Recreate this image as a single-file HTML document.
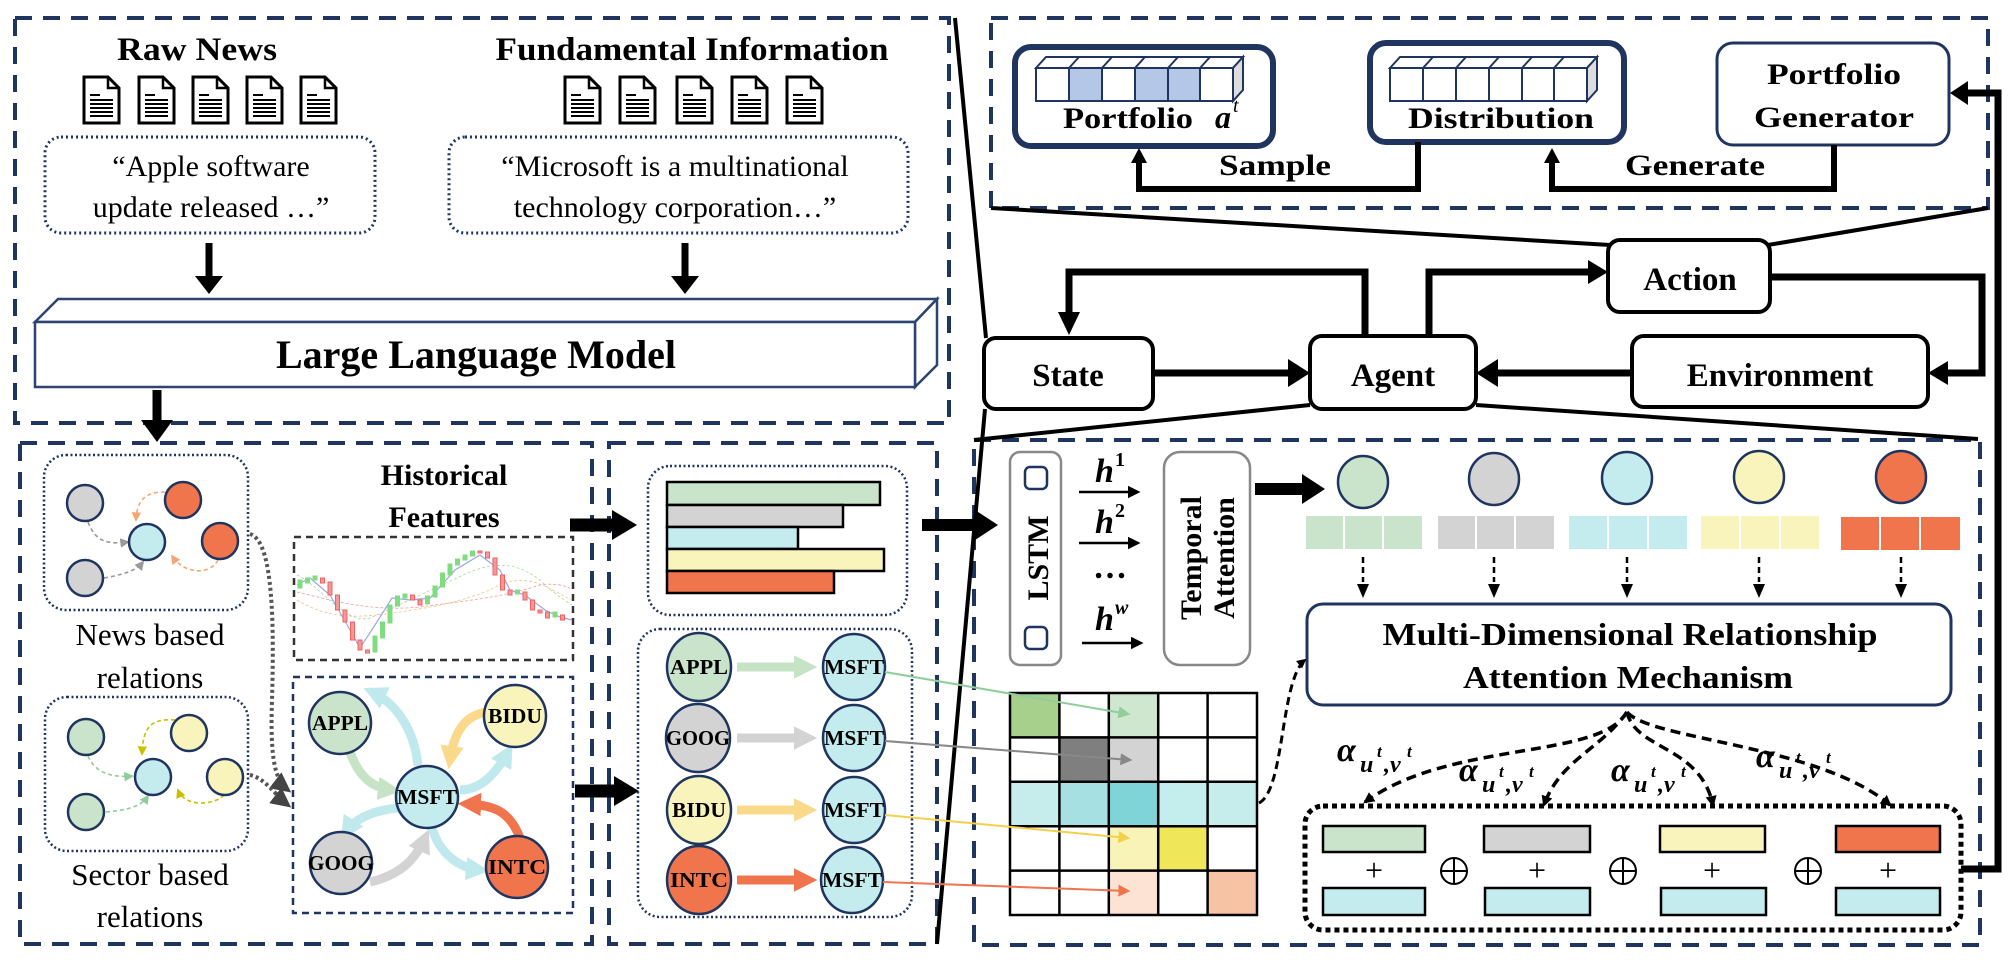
<!DOCTYPE html>
<html><head><meta charset="utf-8"><style>
html,body{margin:0;padding:0;background:#fff}
svg{display:block}
text{font-family:"Liberation Serif",serif}
.b{font-weight:bold}
</style></head><body>
<svg width="2015" height="967" viewBox="0 0 2015 967" xmlns="http://www.w3.org/2000/svg">
<defs>
<marker id="ak" viewBox="0 0 10 10" refX="8" refY="5" markerWidth="3.2" markerHeight="3.2" orient="auto"><path d="M0,0L10,5L0,10z" fill="#000"/></marker>
<marker id="ak2" viewBox="0 0 10 10" refX="8" refY="5" markerWidth="5" markerHeight="5" orient="auto"><path d="M0,0L10,5L0,10z" fill="#000"/></marker>
<marker id="mg" viewBox="0 0 10 10" refX="6" refY="5" markerWidth="2.6" markerHeight="2.6" orient="auto"><path d="M0,0L10,5L0,10z" fill="#c6e3c6"/></marker>
<marker id="mc" viewBox="0 0 10 10" refX="6" refY="5" markerWidth="2.6" markerHeight="2.6" orient="auto"><path d="M0,0L10,5L0,10z" fill="#bfe9ec"/></marker>
<marker id="my" viewBox="0 0 10 10" refX="6" refY="5" markerWidth="2.6" markerHeight="2.6" orient="auto"><path d="M0,0L10,5L0,10z" fill="#fbd98a"/></marker>
<marker id="mo" viewBox="0 0 10 10" refX="6" refY="5" markerWidth="2.6" markerHeight="2.6" orient="auto"><path d="M0,0L10,5L0,10z" fill="#f0744c"/></marker>
<marker id="mgr" viewBox="0 0 10 10" refX="6" refY="5" markerWidth="2.6" markerHeight="2.6" orient="auto"><path d="M0,0L10,5L0,10z" fill="#d3d3d3"/></marker>
<marker id="sg" viewBox="0 0 10 10" refX="8" refY="5" markerWidth="6" markerHeight="6" orient="auto"><path d="M0,0L10,5L0,10z" fill="#8fce9c"/></marker>
<marker id="sgr" viewBox="0 0 10 10" refX="8" refY="5" markerWidth="6" markerHeight="6" orient="auto"><path d="M0,0L10,5L0,10z" fill="#999"/></marker>
<marker id="sy" viewBox="0 0 10 10" refX="8" refY="5" markerWidth="6" markerHeight="6" orient="auto"><path d="M0,0L10,5L0,10z" fill="#f5d04a"/></marker>
<marker id="so" viewBox="0 0 10 10" refX="8" refY="5" markerWidth="6" markerHeight="6" orient="auto"><path d="M0,0L10,5L0,10z" fill="#f0744c"/></marker>
<marker id="sgy" viewBox="0 0 10 10" refX="8" refY="5" markerWidth="6" markerHeight="6" orient="auto"><path d="M0,0L10,5L0,10z" fill="#888"/></marker>
<marker id="sor" viewBox="0 0 10 10" refX="8" refY="5" markerWidth="6" markerHeight="6" orient="auto"><path d="M0,0L10,5L0,10z" fill="#f3a874"/></marker>
<marker id="sye" viewBox="0 0 10 10" refX="8" refY="5" markerWidth="6" markerHeight="6" orient="auto"><path d="M0,0L10,5L0,10z" fill="#c8c000"/></marker>
<marker id="sgn" viewBox="0 0 10 10" refX="8" refY="5" markerWidth="6" markerHeight="6" orient="auto"><path d="M0,0L10,5L0,10z" fill="#8fce9c"/></marker>
<marker id="dk" viewBox="0 0 10 10" refX="8" refY="5" markerWidth="5" markerHeight="5" orient="auto"><path d="M0,0L10,5L0,10z" fill="#444"/></marker>
<g id="doc"><path d="M0,0h24l11,11v35h-35z" fill="#fff" stroke="#000" stroke-width="3"/><path d="M24,0v11h11" fill="none" stroke="#000" stroke-width="2.5"/><path d="M6,18h10M6,23h23M6,27h23M6,31h23M6,35h23M6,39h23" stroke="#000" stroke-width="2"/></g>
</defs>

<!-- ===== Panel outlines ===== -->
<g fill="none" stroke="#1f3560" stroke-width="4" stroke-dasharray="17 11">
<rect x="15" y="18" width="934" height="405"/>
<rect x="20" y="443" width="572" height="501"/>
<rect x="609" y="443" width="328" height="501"/>
<rect x="991" y="18" width="997" height="190"/>
<rect x="974" y="440" width="1006" height="505"/>
</g>

<!-- ===== Top-left: Raw news / Fundamental ===== -->
<text x="197" y="60" class="b" font-size="33" text-anchor="middle" textLength="160" lengthAdjust="spacingAndGlyphs">Raw News</text>
<text x="692" y="60" class="b" font-size="33" text-anchor="middle" textLength="393" lengthAdjust="spacingAndGlyphs">Fundamental Information</text>
<use href="#doc" x="84" y="77"/><use href="#doc" x="139" y="77"/><use href="#doc" x="193" y="77"/><use href="#doc" x="247" y="77"/><use href="#doc" x="301" y="77"/>
<use href="#doc" x="565" y="77"/><use href="#doc" x="620" y="77"/><use href="#doc" x="677" y="77"/><use href="#doc" x="732" y="77"/><use href="#doc" x="787" y="77"/>
<rect x="45" y="137" width="330" height="96" rx="16" fill="none" stroke="#1f3560" stroke-width="3" stroke-dasharray="2 3"/>
<rect x="449" y="137" width="459" height="96" rx="16" fill="none" stroke="#1f3560" stroke-width="3" stroke-dasharray="2 3"/>
<text x="211" y="176" font-size="30" text-anchor="middle">“Apple software</text>
<text x="211" y="217" font-size="30" text-anchor="middle">update released …”</text>
<text x="675" y="176" font-size="30" text-anchor="middle">“Microsoft is a multinational</text>
<text x="675" y="217" font-size="30" text-anchor="middle">technology corporation…”</text>
<path d="M209,243V282" stroke="#000" stroke-width="7"/><path d="M195,276h28l-14,18z" fill="#000"/>
<path d="M685,243V282" stroke="#000" stroke-width="7"/><path d="M671,276h28l-14,18z" fill="#000"/>
<!-- LLM 3D box -->
<g fill="#fff" stroke="#2c4470" stroke-width="2.5">
<path d="M35,322L58,299H937L915,322z"/>
<path d="M915,322L937,299V365L915,387z"/>
<rect x="35" y="322" width="880" height="65"/>
</g>
<text x="476" y="368" class="b" font-size="40" text-anchor="middle">Large Language Model</text>
<path d="M157,390V425" stroke="#000" stroke-width="9"/><path d="M141,420h32l-16,22z" fill="#000"/>

<!-- ===== Lower-left panel ===== -->
<rect x="44" y="455" width="204" height="155" rx="22" fill="none" stroke="#1f3560" stroke-width="2.5" stroke-dasharray="2 2.5"/>
<rect x="45" y="697" width="203" height="154" rx="22" fill="none" stroke="#1f3560" stroke-width="2.5" stroke-dasharray="2 2.5"/>
<g stroke-width="1.6" fill="none" stroke-dasharray="4 3">
<path d="M88,522C95,540 105,545 128,542" stroke="#999" marker-end="url(#sgr)"/>
<path d="M104,578C120,575 135,572 143,562" stroke="#999" marker-end="url(#sgr)"/>
<path d="M165,492C145,492 137,500 136,520" stroke="#f3a874" marker-end="url(#sor)"/>
<path d="M218,560C210,575 185,575 172,556" stroke="#f3a874" marker-end="url(#sor)"/>
<path d="M88,756C95,772 110,778 132,776" stroke="#8fce9c" marker-end="url(#sgn)"/>
<path d="M106,812C125,810 140,808 148,796" stroke="#8fce9c" marker-end="url(#sgn)"/>
<path d="M175,720C150,718 143,728 142,754" stroke="#c8c000" marker-end="url(#sye)"/>
<path d="M224,795C215,805 185,808 178,790" stroke="#c8c000" marker-end="url(#sye)"/>
</g>
<g stroke="#1f3560" stroke-width="2.5">
<circle cx="85" cy="503" r="18" fill="#d3d3d3"/><circle cx="85" cy="578" r="18" fill="#d3d3d3"/>
<circle cx="147" cy="542" r="18" fill="#c4ecee"/><circle cx="183" cy="500" r="18" fill="#f0744c"/><circle cx="220" cy="541" r="18" fill="#f0744c"/>
<circle cx="86" cy="737" r="18" fill="#c9e4ca"/><circle cx="86" cy="812" r="18" fill="#c9e4ca"/>
<circle cx="153" cy="777" r="18" fill="#c4ecee"/><circle cx="189" cy="733" r="18" fill="#f8f4bc"/><circle cx="225" cy="777" r="18" fill="#f8f4bc"/>
</g>
<text x="150" y="645" font-size="31" text-anchor="middle">News based</text>
<text x="150" y="688" font-size="31" text-anchor="middle">relations</text>
<text x="150" y="885" font-size="31" text-anchor="middle">Sector based</text>
<text x="150" y="927" font-size="31" text-anchor="middle">relations</text>
<path d="M250,534C270,540 275,600 272,700C270,760 275,780 288,790" fill="none" stroke="#555" stroke-width="4" stroke-dasharray="3 3" marker-end="url(#dk)"/>
<path d="M250,775C265,778 275,795 288,805" fill="none" stroke="#555" stroke-width="4" stroke-dasharray="3 3" marker-end="url(#dk)"/>
<text x="444" y="485" class="b" font-size="30" text-anchor="middle">Historical</text>
<text x="444" y="527" class="b" font-size="30" text-anchor="middle">Features</text>
<!-- chart -->
<rect x="294" y="537" width="279" height="123" fill="#fff" stroke="#333" stroke-width="2.5" stroke-dasharray="7 5"/>
<g stroke-width="0.8" stroke-dasharray="3 2" fill="none">
<path d="M297,600C330,620 360,618 400,612C440,606 470,600 500,585C530,572 550,590 572,600" stroke="#f3c38a"/>
<path d="M297,592C330,600 370,612 420,607C470,600 500,598 540,585C560,582 570,588 572,590" stroke="#f19a9a"/>
<path d="M297,575C320,585 345,625 370,618C400,605 430,590 470,572C500,560 520,565 540,580C555,595 565,600 572,605" stroke="#a8d8a0"/>
</g>
<path d="M297,585L310,578L330,595L350,630L360,648L375,625L392,598L410,600L430,598L455,570L480,555L500,570L510,590L525,595L545,610L560,617L572,620" fill="none" stroke="#9aa8e0" stroke-width="1.2"/>
<g stroke-width="1">
<g fill="#7fdc7f" stroke="#7fdc7f">
<rect x="298" y="580" width="4" height="8"/><rect x="305.5" y="578" width="4" height="5"/><rect x="313" y="576" width="4" height="4"/>
<rect x="373" y="636" width="4" height="16"/><rect x="380.5" y="622" width="4" height="16"/><rect x="388" y="605" width="4" height="18"/><rect x="395.5" y="596" width="4" height="10"/><rect x="403" y="594" width="4" height="4"/>
<rect x="425.5" y="596" width="4" height="8"/><rect x="433" y="586" width="4" height="11"/><rect x="440.5" y="573" width="4" height="14"/><rect x="448" y="564" width="4" height="11"/><rect x="455.5" y="559" width="4" height="6"/><rect x="463" y="555" width="4" height="5"/><rect x="470.5" y="551" width="4" height="5"/>
<rect x="515.5" y="590" width="4" height="4"/><rect x="553" y="612" width="4" height="5"/>
</g>
<g fill="#f29a9a" stroke="#f26060">
<rect x="320.5" y="578" width="4" height="5"/><rect x="328" y="582" width="4" height="13"/><rect x="335.5" y="595" width="4" height="15"/><rect x="343" y="610" width="4" height="12"/><rect x="350.5" y="622" width="4" height="18"/><rect x="358" y="640" width="4" height="10"/><rect x="365.5" y="650" width="4" height="3"/>
<rect x="410.5" y="595" width="4" height="5"/><rect x="418" y="600" width="4" height="5"/>
<rect x="478" y="551" width="4" height="2"/><rect x="485.5" y="552" width="4" height="6"/><rect x="493" y="558" width="4" height="17"/><rect x="500.5" y="575" width="4" height="15"/><rect x="508" y="590" width="4" height="5"/>
<rect x="523" y="592" width="4" height="8"/><rect x="530.5" y="600" width="4" height="10"/><rect x="538" y="610" width="4" height="3"/><rect x="545.5" y="612" width="4" height="6"/><rect x="560.5" y="615" width="4" height="5"/>
</g>
</g>
<!-- relation graph -->
<rect x="293" y="677" width="280" height="236" fill="none" stroke="#1f3560" stroke-width="2.5" stroke-dasharray="7 5"/>
<g fill="none" stroke-width="9">
<path d="M350,752C360,780 375,788 392,790" stroke="#c6e3c6" marker-end="url(#mg)"/>
<path d="M418,766C415,735 400,705 372,692" stroke="#bfe9ec" marker-end="url(#mc)"/>
<path d="M488,712C470,714 455,725 450,760" stroke="#fbd98a" marker-end="url(#my)"/>
<path d="M460,790C480,790 495,775 508,752" stroke="#bfe9ec" marker-end="url(#mc)"/>
<path d="M520,838C510,812 495,805 467,804" stroke="#f0744c" marker-end="url(#mo)"/>
<path d="M398,808C375,810 355,818 346,832" stroke="#bfe9ec" marker-end="url(#mc)"/>
<path d="M370,882C400,875 415,860 425,838" stroke="#d3d3d3" marker-end="url(#mgr)"/>
<path d="M432,828C440,855 460,868 480,870" stroke="#bfe9ec" marker-end="url(#mc)"/>
</g>
<g stroke="#1f3560" stroke-width="2.5">
<circle cx="340" cy="723" r="31" fill="#c9e4ca"/><circle cx="515" cy="716" r="31" fill="#f8f4bc"/>
<circle cx="427" cy="797" r="31" fill="#c4ecee"/><circle cx="341" cy="863" r="31" fill="#d3d3d3"/><circle cx="517" cy="867" r="31" fill="#f0744c"/>
</g>
<g class="b" font-size="21" text-anchor="middle" font-weight="bold">
<text x="340" y="730" textLength="56" lengthAdjust="spacingAndGlyphs">APPL</text>
<text x="515" y="723" textLength="54" lengthAdjust="spacingAndGlyphs">BIDU</text>
<text x="427" y="804" textLength="60" lengthAdjust="spacingAndGlyphs">MSFT</text>
<text x="341" y="870" textLength="66" lengthAdjust="spacingAndGlyphs">GOOG</text>
<text x="517" y="874" textLength="58" lengthAdjust="spacingAndGlyphs">INTC</text>
</g>
<!-- big arrows -->
<path d="M570,525H615" stroke="#000" stroke-width="13"/><path d="M612,510L637,525L612,540z" fill="#000"/>
<path d="M575,791H617" stroke="#000" stroke-width="13"/><path d="M614,776L639,791L614,806z" fill="#000"/>

<!-- ===== Middle panel ===== -->
<rect x="648" y="466" width="259" height="149" rx="22" fill="none" stroke="#1f3560" stroke-width="2.5" stroke-dasharray="2 2.5"/>
<g stroke="#000" stroke-width="2.5">
<rect x="667" y="482" width="213" height="23" fill="#c9e4ca"/>
<rect x="667" y="505" width="176" height="22" fill="#d3d3d3"/>
<rect x="667" y="527" width="131" height="22" fill="#c4ecee"/>
<rect x="667" y="549" width="217" height="22" fill="#f8f4bc"/>
<rect x="667" y="571" width="167" height="22" fill="#f0744c"/>
</g>
<rect x="638" y="629" width="274" height="288" rx="22" fill="none" stroke="#1f3560" stroke-width="2.5" stroke-dasharray="2 2.5"/>
<g fill="none" stroke-width="9">
<path d="M737,667H808" stroke="#c6e3c6" marker-end="url(#mg)"/>
<path d="M737,738H808" stroke="#d3d3d3" marker-end="url(#mgr)"/>
<path d="M737,810H808" stroke="#fbd98a" marker-end="url(#my)"/>
<path d="M737,880H808" stroke="#f0744c" marker-end="url(#mo)"/>
</g>
<g stroke="#1f3560" stroke-width="2.5">
<ellipse cx="699" cy="667" rx="32" ry="34" fill="#c9e4ca"/><ellipse cx="698" cy="738" rx="32" ry="34" fill="#d3d3d3"/>
<ellipse cx="699" cy="810" rx="32" ry="34" fill="#f8f4bc"/><ellipse cx="699" cy="880" rx="32" ry="34" fill="#f0744c"/>
<ellipse cx="854" cy="667" rx="31" ry="33" fill="#c4ecee"/><ellipse cx="854" cy="738" rx="31" ry="33" fill="#c4ecee"/>
<ellipse cx="854" cy="810" rx="31" ry="33" fill="#c4ecee"/><ellipse cx="852" cy="880" rx="31" ry="33" fill="#c4ecee"/>
</g>
<g font-size="21" text-anchor="middle" font-weight="bold">
<text x="699" y="674" textLength="58" lengthAdjust="spacingAndGlyphs">APPL</text>
<text x="698" y="745" textLength="64" lengthAdjust="spacingAndGlyphs">GOOG</text>
<text x="699" y="817" textLength="54" lengthAdjust="spacingAndGlyphs">BIDU</text>
<text x="699" y="887" textLength="58" lengthAdjust="spacingAndGlyphs">INTC</text>
<text x="854" y="674" textLength="60" lengthAdjust="spacingAndGlyphs">MSFT</text>
<text x="854" y="745" textLength="60" lengthAdjust="spacingAndGlyphs">MSFT</text>
<text x="854" y="817" textLength="60" lengthAdjust="spacingAndGlyphs">MSFT</text>
<text x="852" y="887" textLength="60" lengthAdjust="spacingAndGlyphs">MSFT</text>
</g>
<path d="M922,525H978" stroke="#000" stroke-width="12"/><path d="M975,510L998,525L975,540z" fill="#000"/>

<!-- ===== Funnel lines ===== -->
<g stroke="#000" stroke-width="4" fill="none">
<path d="M955,18L986,338"/>
<path d="M985,409L937,944"/>
<path d="M1310,405L974,440"/>
<path d="M1476,405L1978,439"/>
<path d="M991,208L1610,245"/>
<path d="M1988,208L1768,245"/>
</g>

<!-- ===== Top-right ===== -->
<rect x="1015" y="47" width="258" height="99" rx="16" fill="#fff" stroke="#1f3560" stroke-width="6"/>
<rect x="1370" y="43" width="254" height="99" rx="16" fill="#fff" stroke="#1f3560" stroke-width="6"/>
<rect x="1717" y="43" width="232" height="102" rx="16" fill="#fff" stroke="#1f3560" stroke-width="3"/>
<g stroke="#1f3560" stroke-width="2">
<path d="M1036,68L1046,57H1243L1233,68z" fill="#fff"/><path d="M1233,68L1243,57V90L1233,101z" fill="#ddd"/>
<rect x="1036" y="68" width="33" height="33" fill="#fff"/><rect x="1069" y="68" width="33" height="33" fill="#b4c7e7"/><rect x="1102" y="68" width="33" height="33" fill="#fff"/><rect x="1135" y="68" width="33" height="33" fill="#b4c7e7"/><rect x="1168" y="68" width="32" height="33" fill="#b4c7e7"/><rect x="1200" y="68" width="33" height="33" fill="#fff"/>
<path d="M1069,68l10,-11M1102,68l10,-11M1135,68l10,-11M1168,68l10,-11M1200,68l10,-11" fill="none"/>
<path d="M1390,68L1400,57H1597L1587,68z" fill="#fff"/><path d="M1587,68L1597,57V90L1587,101z" fill="#ddd"/>
<rect x="1390" y="68" width="33" height="33" fill="#fff"/><rect x="1423" y="68" width="33" height="33" fill="#fff"/><rect x="1456" y="68" width="33" height="33" fill="#fff"/><rect x="1489" y="68" width="33" height="33" fill="#fff"/><rect x="1522" y="68" width="32" height="33" fill="#fff"/><rect x="1554" y="68" width="33" height="33" fill="#fff"/>
<path d="M1423,68l10,-11M1456,68l10,-11M1489,68l10,-11M1522,68l10,-11M1554,68l10,-11" fill="none"/>
</g>
<text x="1128" y="128" class="b" font-size="30" text-anchor="middle" textLength="130" lengthAdjust="spacingAndGlyphs">Portfolio</text>
<text x="1215" y="128" font-size="32" font-style="italic" font-weight="bold">a</text><text x="1233" y="112" font-size="20" font-style="italic">t</text>
<text x="1501" y="128" class="b" font-size="30" text-anchor="middle" textLength="186" lengthAdjust="spacingAndGlyphs">Distribution</text>
<text x="1834" y="84" class="b" font-size="30" text-anchor="middle" textLength="134" lengthAdjust="spacingAndGlyphs">Portfolio</text>
<text x="1834" y="127" class="b" font-size="30" text-anchor="middle" textLength="160" lengthAdjust="spacingAndGlyphs">Generator</text>
<text x="1275" y="175" class="b" font-size="30" text-anchor="middle" textLength="112" lengthAdjust="spacingAndGlyphs">Sample</text>
<text x="1695" y="175" class="b" font-size="30" text-anchor="middle" textLength="140" lengthAdjust="spacingAndGlyphs">Generate</text>
<g stroke="#000" stroke-width="6" fill="none">
<path d="M1418,142V189H1139V160"/>
<path d="M1834,145V189H1552V160"/>
</g>
<path d="M1131,163L1139,148L1147,163z" fill="#000"/>
<path d="M1544,163L1552,148L1560,163z" fill="#000"/>

<!-- ===== RL loop ===== -->
<g stroke="#000" stroke-width="7" fill="none">
<path d="M1365,336V272H1069V318"/>
<path d="M1429,336V272H1590"/>
<path d="M1770,277H1982V373H1945"/>
<path d="M1961,869H1998V93H1966"/>
<path d="M1153,373H1290"/>
<path d="M1632,373H1495"/>
</g>
<path d="M1058,312H1080L1069,335z" fill="#000"/>
<path d="M1588,260L1608,272L1588,284z" fill="#000"/>
<path d="M1948,361L1928,373L1948,385z" fill="#000"/>
<path d="M1968,81L1950,93L1968,105z" fill="#000"/>
<path d="M1288,359L1310,373L1288,387z" fill="#000"/>
<path d="M1498,359L1476,373L1498,387z" fill="#000"/>
<g fill="#fff" stroke="#000" stroke-width="4">
<rect x="1608" y="240" width="162" height="72" rx="12"/>
<rect x="984" y="338" width="169" height="71" rx="12"/>
<rect x="1310" y="336" width="166" height="73" rx="12"/>
<rect x="1632" y="336" width="296" height="71" rx="12"/>
</g>
<text x="1690" y="290" class="b" font-size="33" text-anchor="middle">Action</text>
<text x="1068" y="386" class="b" font-size="33" text-anchor="middle">State</text>
<text x="1393" y="386" class="b" font-size="33" text-anchor="middle">Agent</text>
<text x="1780" y="386" class="b" font-size="33" text-anchor="middle">Environment</text>

<!-- ===== Bottom-right panel ===== -->
<rect x="1010" y="452" width="51" height="213" rx="10" fill="#fff" stroke="#888" stroke-width="2.5"/>
<rect x="1025" y="467" width="22" height="22" rx="5" fill="#fff" stroke="#1f3560" stroke-width="2.5"/>
<rect x="1025" y="627" width="22" height="22" rx="5" fill="#fff" stroke="#1f3560" stroke-width="2.5"/>
<text transform="translate(1048,558) rotate(-90)" class="b" font-size="30" text-anchor="middle">LSTM</text>
<rect x="1164" y="452" width="86" height="213" rx="16" fill="#fff" stroke="#888" stroke-width="2.5"/>
<text transform="translate(1201,558) rotate(-90)" class="b" font-size="30" text-anchor="middle">Temporal</text>
<text transform="translate(1234,558) rotate(-90)" class="b" font-size="30" text-anchor="middle">Attention</text>
<g font-size="34" font-style="italic" font-weight="bold">
<text x="1095" y="482">h</text><text x="1115" y="466" font-size="20" font-style="normal">1</text>
<text x="1095" y="533">h</text><text x="1115" y="517" font-size="20" font-style="normal">2</text>
<text x="1093" y="578" font-style="normal">…</text>
<text x="1095" y="630">h</text><text x="1115" y="614" font-size="20">w</text>
</g>
<g stroke="#000" stroke-width="2.5" marker-end="url(#ak2)">
<path d="M1079,492H1138"/><path d="M1079,543H1138"/><path d="M1082,643H1141"/>
</g>
<path d="M1255,489H1305" stroke="#000" stroke-width="12"/><path d="M1302,474L1325,489L1302,504z" fill="#000"/>
<g stroke="#1f3560" stroke-width="2.5">
<ellipse cx="1363" cy="482" rx="25" ry="26" fill="#c9e4ca"/><ellipse cx="1494" cy="479" rx="25" ry="26" fill="#d3d3d3"/>
<ellipse cx="1627" cy="478" rx="25" ry="26" fill="#c4ecee"/><ellipse cx="1759" cy="477" rx="25" ry="26" fill="#f8f4bc"/>
<ellipse cx="1901" cy="477" rx="25" ry="26" fill="#f0744c"/>
</g>
<g stroke="#fff" stroke-width="2">
<rect x="1305" y="515" width="39" height="35" fill="#c9e4ca"/><rect x="1344" y="515" width="39" height="35" fill="#c9e4ca"/><rect x="1383" y="515" width="40" height="35" fill="#c9e4ca"/>
<rect x="1437" y="515" width="39" height="35" fill="#d3d3d3"/><rect x="1476" y="515" width="39" height="35" fill="#d3d3d3"/><rect x="1515" y="515" width="40" height="35" fill="#d3d3d3"/>
<rect x="1568" y="515" width="40" height="35" fill="#c4ecee"/><rect x="1608" y="515" width="40" height="35" fill="#c4ecee"/><rect x="1648" y="515" width="40" height="35" fill="#c4ecee"/>
<rect x="1700" y="515" width="40" height="35" fill="#f8f4bc"/><rect x="1740" y="515" width="40" height="35" fill="#f8f4bc"/><rect x="1780" y="515" width="40" height="35" fill="#f8f4bc"/>
<rect x="1840" y="516" width="40" height="35" fill="#f0744c"/><rect x="1880" y="516" width="40" height="35" fill="#f0744c"/><rect x="1920" y="516" width="41" height="35" fill="#f0744c"/>
</g>
<g stroke="#000" stroke-width="2.5" stroke-dasharray="6 4">
<path d="M1363,557V582"/><path d="M1494,557V582"/><path d="M1627,557V582"/><path d="M1759,557V582"/><path d="M1901,557V582"/>
</g>
<g fill="#000">
<path d="M1357,584h12l-6,14z"/><path d="M1488,584h12l-6,14z"/><path d="M1621,584h12l-6,14z"/><path d="M1753,584h12l-6,14z"/><path d="M1895,584h12l-6,14z"/>
</g>
<rect x="1307" y="604" width="644" height="101" rx="16" fill="#fff" stroke="#1f3560" stroke-width="3"/>
<text x="1630" y="645" class="b" font-size="32" text-anchor="middle" textLength="495" lengthAdjust="spacingAndGlyphs">Multi-Dimensional  Relationship</text>
<text x="1628" y="688" class="b" font-size="32" text-anchor="middle" textLength="330" lengthAdjust="spacingAndGlyphs">Attention Mechanism</text>
<!-- matrix -->
<g stroke="none">
<rect x="1010" y="693" width="49.4" height="44.4" fill="#a8d08d"/><rect x="1108.8" y="693" width="49.4" height="44.4" fill="#cfe6cf"/>
<rect x="1059.4" y="737.4" width="49.4" height="44.4" fill="#7f7f7f"/><rect x="1108.8" y="737.4" width="49.4" height="44.4" fill="#d3d3d3"/>
<rect x="1010" y="781.8" width="49.4" height="44.4" fill="#c7ecec"/><rect x="1059.4" y="781.8" width="49.4" height="44.4" fill="#a6e0e2"/><rect x="1108.8" y="781.8" width="49.4" height="44.4" fill="#7fd4d8"/><rect x="1158.2" y="781.8" width="49.4" height="44.4" fill="#c4eeee"/><rect x="1207.6" y="781.8" width="49.4" height="44.4" fill="#c7ecec"/>
<rect x="1108.8" y="826.2" width="49.4" height="44.4" fill="#f8f4b8"/><rect x="1158.2" y="826.2" width="49.4" height="44.4" fill="#efe65a"/>
<rect x="1108.8" y="870.6" width="49.4" height="44.4" fill="#fde3d3"/><rect x="1207.6" y="870.6" width="49.4" height="44.4" fill="#f6c4a4"/>
</g>
<g stroke="#000" stroke-width="2.5" fill="none">
<rect x="1010" y="693" width="247" height="222"/>
<path d="M1059.4,693V915M1108.8,693V915M1158.2,693V915M1207.6,693V915M1010,737.4H1257M1010,781.8H1257M1010,826.2H1257M1010,870.6H1257"/>
</g>
<g stroke-width="2" fill="none">
<path d="M885,672L1128,714" stroke="#8fce9c" marker-end="url(#sg)"/>
<path d="M885,741L1130,760" stroke="#888" marker-end="url(#sgy)"/>
<path d="M885,815L1128,838" stroke="#f5d04a" marker-end="url(#sy)"/>
<path d="M883,882L1128,891" stroke="#f0744c" marker-end="url(#so)"/>
</g>
<path d="M1259,803C1285,790 1280,680 1305,660" fill="none" stroke="#000" stroke-width="3" stroke-dasharray="8 5" marker-end="url(#ak)"/>
<!-- alpha curves -->
<g stroke="#000" stroke-width="3.5" stroke-dasharray="10 6" fill="none">
<path d="M1627,712C1600,760 1450,740 1365,802" marker-end="url(#ak)"/>
<path d="M1627,712C1600,750 1560,760 1544,805" marker-end="url(#ak)"/>
<path d="M1627,712C1635,750 1700,745 1713,805" marker-end="url(#ak)"/>
<path d="M1627,712C1650,740 1820,745 1890,805" marker-end="url(#ak)"/>
</g>
<g font-size="34" font-style="italic" font-weight="bold">
<text x="1337" y="761">α</text><text x="1360" y="772" font-size="24">u</text><text x="1377" y="757" font-size="17">t</text><text x="1384" y="772" font-size="24">,v</text><text x="1407" y="757" font-size="17">t</text>
<text x="1459" y="781">α</text><text x="1482" y="792" font-size="24">u</text><text x="1499" y="777" font-size="17">t</text><text x="1506" y="792" font-size="24">,v</text><text x="1529" y="777" font-size="17">t</text>
<text x="1611" y="781">α</text><text x="1634" y="792" font-size="24">u</text><text x="1651" y="777" font-size="17">t</text><text x="1658" y="792" font-size="24">,v</text><text x="1681" y="777" font-size="17">t</text>
<text x="1756" y="767">α</text><text x="1779" y="778" font-size="24">u</text><text x="1796" y="763" font-size="17">t</text><text x="1803" y="778" font-size="24">,v</text><text x="1826" y="763" font-size="17">t</text>
</g>
<rect x="1305" y="806" width="656" height="124" rx="18" fill="none" stroke="#000" stroke-width="5" stroke-dasharray="5 4"/>
<g stroke="#000" stroke-width="2.5">
<rect x="1323" y="826" width="102" height="26" fill="#c9e4ca"/><rect x="1323" y="888" width="102" height="27" fill="#c4ecee"/>
<rect x="1484" y="826" width="106" height="26" fill="#d3d3d3"/><rect x="1485" y="888" width="105" height="27" fill="#c4ecee"/>
<rect x="1660" y="826" width="105" height="26" fill="#f8f4bc"/><rect x="1661" y="888" width="105" height="27" fill="#c4ecee"/>
<rect x="1836" y="826" width="104" height="26" fill="#f0744c"/><rect x="1836" y="888" width="104" height="27" fill="#c4ecee"/>
</g>
<g font-size="32" text-anchor="middle">
<text x="1374" y="881">+</text><text x="1537" y="881">+</text><text x="1712" y="881">+</text><text x="1888" y="881">+</text>
</g>
<g stroke="#000" stroke-width="2" fill="none">
<circle cx="1454" cy="871" r="13"/><path d="M1441,871h26M1454,858v26"/>
<circle cx="1623" cy="871" r="13"/><path d="M1610,871h26M1623,858v26"/>
<circle cx="1808" cy="871" r="13"/><path d="M1795,871h26M1808,858v26"/>
</g>
</svg>
</body></html>
